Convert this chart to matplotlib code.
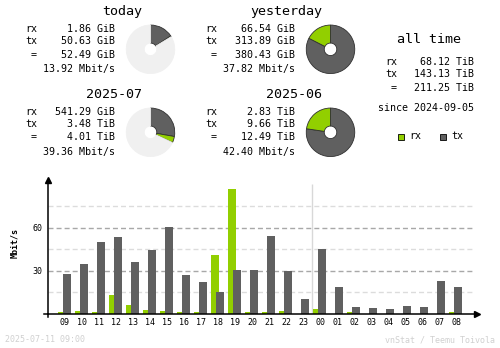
import matplotlib
matplotlib.use("Agg")
from matplotlib import pyplot as plt

# hourly traffic, Mbit/s
hours = ["09", "10", "11", "12", "13", "14", "15", "16", "17", "18", "19", "20",
         "21", "22", "23", "00", "01", "02", "03", "04", "05", "06", "07", "08"]
rx_rate = [0.9, 1.6, 0.9, 12.8, 5.8, 2.3, 1.6, 0.9, 0.9, 40.7, 86.8, 0.9,
           0.9, 1.6, 0.0, 3.0, 0.0, 0.9, 0.0, 0.0, 0.0, 0.0, 0.0, 0.9]
tx_rate = [27.4, 34.4, 49.8, 53.3, 35.8, 44.2, 60.2, 26.7, 21.9, 14.9, 30.2, 30.2,
           54.0, 29.5, 10.0, 44.9, 18.4, 4.4, 3.7, 3.0, 5.1, 4.4, 22.6, 18.4]

# summary blocks
periods = ["today", "yesterday", "2025-07", "2025-06"]
rx_text = ["1.86 GiB", "66.54 GiB", "541.29 GiB", "2.83 TiB"]
tx_text = ["50.63 GiB", "313.89 GiB", "3.48 TiB", "9.66 TiB"]
tot_text = ["52.49 GiB", "380.43 GiB", "4.01 TiB", "12.49 TiB"]
rate_text = ["13.92 Mbit/s", "37.82 Mbit/s", "39.36 Mbit/s", "42.40 Mbit/s"]
rx_gib = [1.86, 66.54, 541.29, 2.83 * 1024]
tx_gib = [50.63, 313.89, 3.48 * 1024, 9.66 * 1024]
fill = [0.163, 1.0, 0.32, 1.0]   # part of the period already passed

alltime_rx = "68.12 TiB"
alltime_tx = "143.13 TiB"
alltime_tot = "211.25 TiB"
since = "since 2024-09-05"
stamp = "2025-07-11 09:00"
credit = "vnStat / Teemu Toivola"

RX = "#92cf00"
TX = "#606060"
REST = "#f0f0f0"
MONO = "DejaVu Sans Mono"

W, H = 500, 348
fig = plt.figure(figsize=(5, 3.48), dpi=100)
fig.patch.set_facecolor("white")


def txt(x, y, s, size=7.2, ha="left", color="black", **kw):
    fig.text(x / W, 1 - y / H, s, fontsize=size, ha=ha, va="center",
             family=MONO, color=color, **kw)


# ---- summary text blocks
blocks = [
    # header center x, header y, label right x, value right x, row y's, pie center
    (122.5, 11, 37, 115, [29.3, 41.3, 54.7, 69], (150.5, 49.3)),
    (286, 11, 217, 295, [29.3, 41.3, 54.7, 69], (330.5, 49.3)),
    (114, 94.3, 37, 115, [111.7, 124, 137.3, 152], (150.5, 132.3)),
    (294, 94.3, 217, 295, [111.7, 124, 137.3, 152], (330.5, 132.3)),
]

for k, (hx, hy, lx, vx, rows, pc) in enumerate(blocks):
    txt(hx, hy, periods[k], size=9.6, ha="center")
    txt(lx, rows[0], "rx", ha="right")
    txt(lx, rows[1], "tx", ha="right")
    txt(lx, rows[2], "=", ha="right")
    txt(vx, rows[0], rx_text[k], ha="right")
    txt(vx, rows[1], tx_text[k], ha="right")
    txt(vx, rows[2], tot_text[k], ha="right")
    txt(vx, rows[3], rate_text[k], ha="right")

    # donut
    r = 25
    pax = fig.add_axes([(pc[0] - r) / W, 1 - (pc[1] + r) / H, 2 * r / W, 2 * r / H])
    total = rx_gib[k] + tx_gib[k]
    tx_part = fill[k] * tx_gib[k] / total
    rx_part = fill[k] * rx_gib[k] / total
    rest = max(1 - fill[k], 0)
    vals = [tx_part, rx_part]
    cols = [TX, RX]
    if rest > 0:
        vals.append(rest)
        cols.append(REST)
    wedges, _ = pax.pie(vals, colors=cols, startangle=90, counterclock=False,
                        radius=0.97, normalize=False if sum(vals) < 1 else True,
                        wedgeprops=dict(width=0.72, edgecolor="#303030", linewidth=0.6))
    if rest > 0:
        wedges[-1].set_edgecolor(REST)
    pax.set_xlim(-1, 1)
    pax.set_ylim(-1, 1)
    pax.set_aspect("equal")
    pax.axis("off")

# all time block
txt(429, 39.3, "all time", size=9.6, ha="center")
txt(397, 62, "rx", ha="right")
txt(397, 74, "tx", ha="right")
txt(397, 87.7, "=", ha="right")
txt(474, 62, alltime_rx, ha="right")
txt(474, 74, alltime_tx, ha="right")
txt(474, 87.7, alltime_tot, ha="right")
txt(474, 107.7, since, ha="right")

# legend
for sx, c, lab in [(398, RX, "rx"), (440, TX, "tx")]:
    fig.patches.append(plt.Rectangle((sx / W, 1 - 139.5 / H), 6 / W, 6 / H,
                                     transform=fig.transFigure, facecolor=c,
                                     edgecolor="black", linewidth=0.6))
    txt(sx + 11, 136, lab)

# ---- hourly bar chart
x0, x1 = 48, 477
yb, yt = 313.5, 180
px_per_unit = 43 / 30.0
ax = fig.add_axes([x0 / W, 1 - yb / H, (x1 - x0) / W, (yb - yt) / H])
ax.set_xlim((x0 - 65) / 17.0, (x1 - 65) / 17.0)
ax.set_ylim(0, (yb - yt) / px_per_unit)

idx = list(range(len(hours)))
ax.bar([i - 3 / 17.0 for i in idx], rx_rate, width=8 / 17.0, color=RX, zorder=3)
ax.bar([i + 2 / 17.0 for i in idx], tx_rate, width=8 / 17.0, color=TX, zorder=4)

gx_end = (473 - 65) / 17.0
for gy in [15, 45, 75]:
    ax.hlines(gy, (x0 - 65) / 17.0, gx_end, colors="#dcdcdc", linewidth=1,
              linestyles=(0, (3.6, 2.2)), zorder=1)
for gy in [30, 60]:
    ax.hlines(gy, (x0 - 65) / 17.0, gx_end, colors="#a8a8a8", linewidth=1,
              linestyles=(0, (3.6, 2.2)), zorder=1)
ax.vlines(14.5, 0, (yb - 184) / px_per_unit, colors="#d8d8d8", linewidth=1, zorder=2)

for s in ["top", "right"]:
    ax.spines[s].set_visible(False)
ax.spines["left"].set_linewidth(1.1)
ax.spines["bottom"].set_linewidth(1.1)
ax.spines["left"].set_zorder(6)
ax.spines["bottom"].set_zorder(6)

ax.set_xticks(idx)
ax.set_xticklabels(hours, family=MONO, fontsize=6)
ax.set_yticks([30, 60])
ax.set_yticklabels(["30", "60"], family=MONO, fontsize=6)
ax.tick_params(axis="x", length=0, pad=3)
ax.tick_params(axis="y", length=0, pad=4)

# arrow heads + small overhangs of the axes
ax.plot([0], [1], marker="^", color="black", markersize=4, transform=ax.transAxes,
        clip_on=False, zorder=7)
ax.plot([1], [0], marker=">", color="black", markersize=4, transform=ax.transAxes,
        clip_on=False, zorder=7)
ax.plot([-4 / (x1 - x0), 0], [0, 0], color="black", linewidth=1.1,
        transform=ax.transAxes, clip_on=False)
ax.plot([0, 0], [-3 / (yb - yt), 0], color="black", linewidth=1.1,
        transform=ax.transAxes, clip_on=False)

txt(15, 243, "Mbit/s", size=6, ha="center", rotation=90, fontweight="bold")

# footer
txt(5, 340, stamp, size=6, color="#d0d0d0")
txt(495, 340, credit, size=6, ha="right", color="#d0d0d0")

fig.savefig("out.png", dpi=100, facecolor="white")
